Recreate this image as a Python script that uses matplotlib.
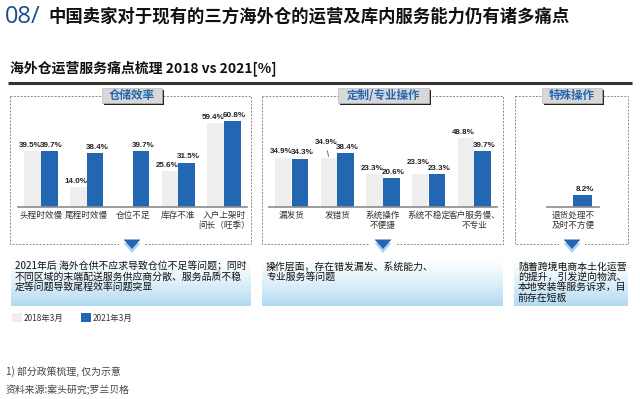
import numpy as np
import matplotlib
matplotlib.use('Agg')
import matplotlib.pyplot as plt
from matplotlib.patches import Rectangle, Polygon
from matplotlib.colors import to_rgb

plt.rcParams['font.family'] = ['Noto Sans CJK SC', 'DejaVu Sans']

# ---------------- data ----------------
left_cats = ['头程时效慢', '尾程时效慢', '仓位不足', '库存不准', '入户上架时\n间长（旺季）']
left_2018 = [39.5, 14.0, np.nan, 25.6, 59.4]
left_2021 = [39.7, 38.4, 39.7, 31.5, 60.8]

mid_cats = ['漏发货', '发错货', '系统操作\n不便捷', '系统不稳定', '客户服务慢、\n不专业']
mid_2018 = [34.9, 34.9, 23.3, 23.3, 48.8]
mid_2021 = [34.3, 38.4, 20.6, 23.3, 39.7]

right_cats = ['退货处理不\n及时不方便']
right_2018 = [np.nan]
right_2021 = [8.2]

series_labels = ['2018年3月', '2021年3月']
group_titles = ['仓储效率', '定制/专业操作', '特殊操作']
main_title = '中国卖家对于现有的三方海外仓的运营及库内服务能力仍有诸多痛点'
sub_title = '海外仓运营服务痛点梳理 2018 vs 2021[%]'
notes = [
    ['2021年后 海外仓供不应求导致仓位不足等问题；同时',
     '不同区域的末端配送服务供应商分散、服务品质不稳',
     '定等问题导致尾程效率问题突显'],
    ['操作层面，存在错发漏发、系统能力、',
     '专业服务等问题'],
    ['随着跨境电商本土化运营',
     '的提升，引发逆向物流、',
     '本地安装等服务诉求，目',
     '前存在短板'],
]
footnote1 = '1) 部分政策梳理, 仅为示意'
footnote2 = '资料来源:案头研究;罗兰贝格'

# ---------------- styling ----------------
C_LIGHT = '#eeeeef'
C_DARK = '#2366b1'
C_NAVY = '#1b4f8c'
W, H = 640, 399

fig = plt.figure(figsize=(6.4, 3.99), dpi=100)
bg = fig.add_axes([0, 0, 1, 1], zorder=0)
bg.axis('off')


def pxrect(x0, y0, x1, y1):
    return [x0 / W, 1 - y1 / H, (x1 - x0) / W, (y1 - y0) / H]


# titles
bg.text(5, 17, '08/', color=C_NAVY, fontsize=17, family=['Open Sans', 'DejaVu Sans'],
        fontweight='normal', va='center', ha='left')
bg.text(48, 17, main_title, fontsize=12.5, fontweight='bold', va='center', color='#111111')
bg.text(10, 68, sub_title, fontsize=10, fontweight='bold', va='center', color='#111111')
bg.plot([8, 632], [83, 83], color='#333333', lw=2.2, solid_capstyle='butt')

panels = [
    dict(box=(10, 96, 251, 244), tab=(102, 88, 162, 103), arrow=132,
         tbox=(11, 258, 251, 306), tx=15, ax=(18.1, 246.9)),
    dict(box=(262, 96, 503, 244), tab=(338, 88, 429, 103), arrow=383,
         tbox=(262, 258, 503, 306), tx=266, ax=(268.7, 497.0)),
    dict(box=(515, 96, 628, 244), tab=(542, 88, 602, 103), arrow=572,
         tbox=(514, 258, 628, 306), tx=518, ax=(547, 599)),
]

c0 = np.array(to_rgb('#ffffff'))
c1 = np.array(to_rgb('#b1daf3'))
t = np.linspace(0, 1, 100) ** 1.3
grad = (c0[None, :] * (1 - t[:, None]) + c1[None, :] * t[:, None])[:, None, :]

for i, p in enumerate(panels):
    x0, y0, x1, y1 = p['box']
    bg.add_patch(Rectangle((x0, y0), x1 - x0, y1 - y0, fill=False, ec='#8a8a8a',
                           lw=0.7, ls=(0, (2, 1.5)), zorder=2))
    # tab
    tx0, ty0, tx1, ty1 = p['tab']
    bg.add_patch(Rectangle((tx0 + 1.6, ty0 + 1.6), tx1 - tx0, ty1 - ty0, fc='#222222',
                           ec='none', zorder=3))
    bg.add_patch(Rectangle((tx0, ty0), tx1 - tx0, ty1 - ty0, fc='#d8d8d8',
                           ec='#bcbcbc', lw=0.5, zorder=4))
    bg.text((tx0 + tx1) / 2, (ty0 + ty1) / 2, group_titles[i], fontsize=8.3,
            fontweight='bold', color='#2566b0', ha='center', va='center', zorder=5)
    # arrow
    c = p['arrow']
    bg.add_patch(Rectangle((c - 13, 241.5), 26, 5, fc='white', ec='none', zorder=3))
    bg.add_patch(Polygon([(c - 8.5, 243), (c + 8.5, 243), (c, 253)], closed=True,
                         fc='#a9d3f0', ec='none', zorder=4))
    bg.add_patch(Polygon([(c - 8.5, 239.5), (c + 8.5, 239.5), (c, 249)], closed=True,
                         fc=C_DARK, ec='none', zorder=5))
    # gradient text box
    bx0, by0, bx1, by1 = p['tbox']
    bg.imshow(grad, extent=(bx0, bx1, by1, by0), aspect='auto',
              interpolation='bilinear', zorder=1)
    for k, line in enumerate(notes[i]):
        bg.text(p['tx'], 266.5 + 10.3 * k, line, fontsize=7.1, va='center',
                ha='left', color='#111111', zorder=6)

bg.set_xlim(0, W)
bg.set_ylim(H, 0)

# footnotes
bg.text(6, 372, footnote1, fontsize=7.1, va='center', color='#444444')
bg.text(6, 390, footnote2, fontsize=7.1, va='center', color='#444444')

# ---------------- bar charts ----------------
BASE = 207.0
PX_PER = 1.41
YMAX = 70


def draw(axpx, cats, v18, v21, raised=None):
    raised = raised or {}
    top = BASE - PX_PER * YMAX
    ax = fig.add_axes(pxrect(axpx[0], top, axpx[1], BASE), zorder=3)
    ax.set_facecolor('none')
    x = np.arange(len(cats))
    b18 = ax.bar(x - 0.185, v18, 0.36, color=C_LIGHT)
    b21 = ax.bar(x + 0.185, v21, 0.36, color=C_DARK)
    ax.set_xlim(-0.5, len(cats) - 0.5)
    ax.set_ylim(0, YMAX)
    for s in ['top', 'left', 'right']:
        ax.spines[s].set_visible(False)
    ax.spines['bottom'].set_color('#8c8c8c')
    ax.spines['bottom'].set_linewidth(1.2)
    ax.set_yticks([])
    ax.set_xticks(x, cats)
    ax.tick_params(axis='x', length=0, pad=3, labelsize=6.2, labelcolor='#333333')
    for lab in ax.get_xticklabels():
        lab.set_linespacing(1.05)
    lab_kw = dict(textcoords='offset points', ha='center', va='center', fontsize=5.8,
                  fontweight='bold', family=['Liberation Sans', 'DejaVu Sans'],
                  color='#222222', annotation_clip=False)
    for j in range(len(cats)):
        if not np.isnan(v18[j]):
            dy, line = raised.get(j, (4.2, False))
            ap = dict(arrowstyle='-', color='#555555', lw=0.6, shrinkA=1.5, shrinkB=1) if line else None
            ax.annotate(f'{v18[j]:.1f}%', xy=(x[j] - 0.185, v18[j]),
                        xytext=(-2 if line else -1.5, dy), arrowprops=ap, **lab_kw)
        if not np.isnan(v21[j]):
            ax.annotate(f'{v21[j]:.1f}%', xy=(x[j] + 0.185, v21[j]),
                        xytext=(1.5, 4.2), **lab_kw)
    return b18, b21


lb18, lb21 = draw(panels[0]['ax'], left_cats, left_2018, left_2021)
draw(panels[1]['ax'], mid_cats, mid_2018, mid_2021, raised={1: (11, True), 3: (8.5, False)})
draw(panels[2]['ax'], right_cats, right_2018, right_2021)

fig.legend(handles=[lb18, lb21], labels=series_labels, loc='center left',
           bbox_to_anchor=(12 / W, 1 - 318 / H), ncol=2, frameon=False,
           fontsize=6, handlelength=1.2, handleheight=1.2, handletextpad=0.25,
           columnspacing=2.0, borderaxespad=0, borderpad=0,
           labelcolor='#333333')

fig.savefig('out.png', dpi=100)
